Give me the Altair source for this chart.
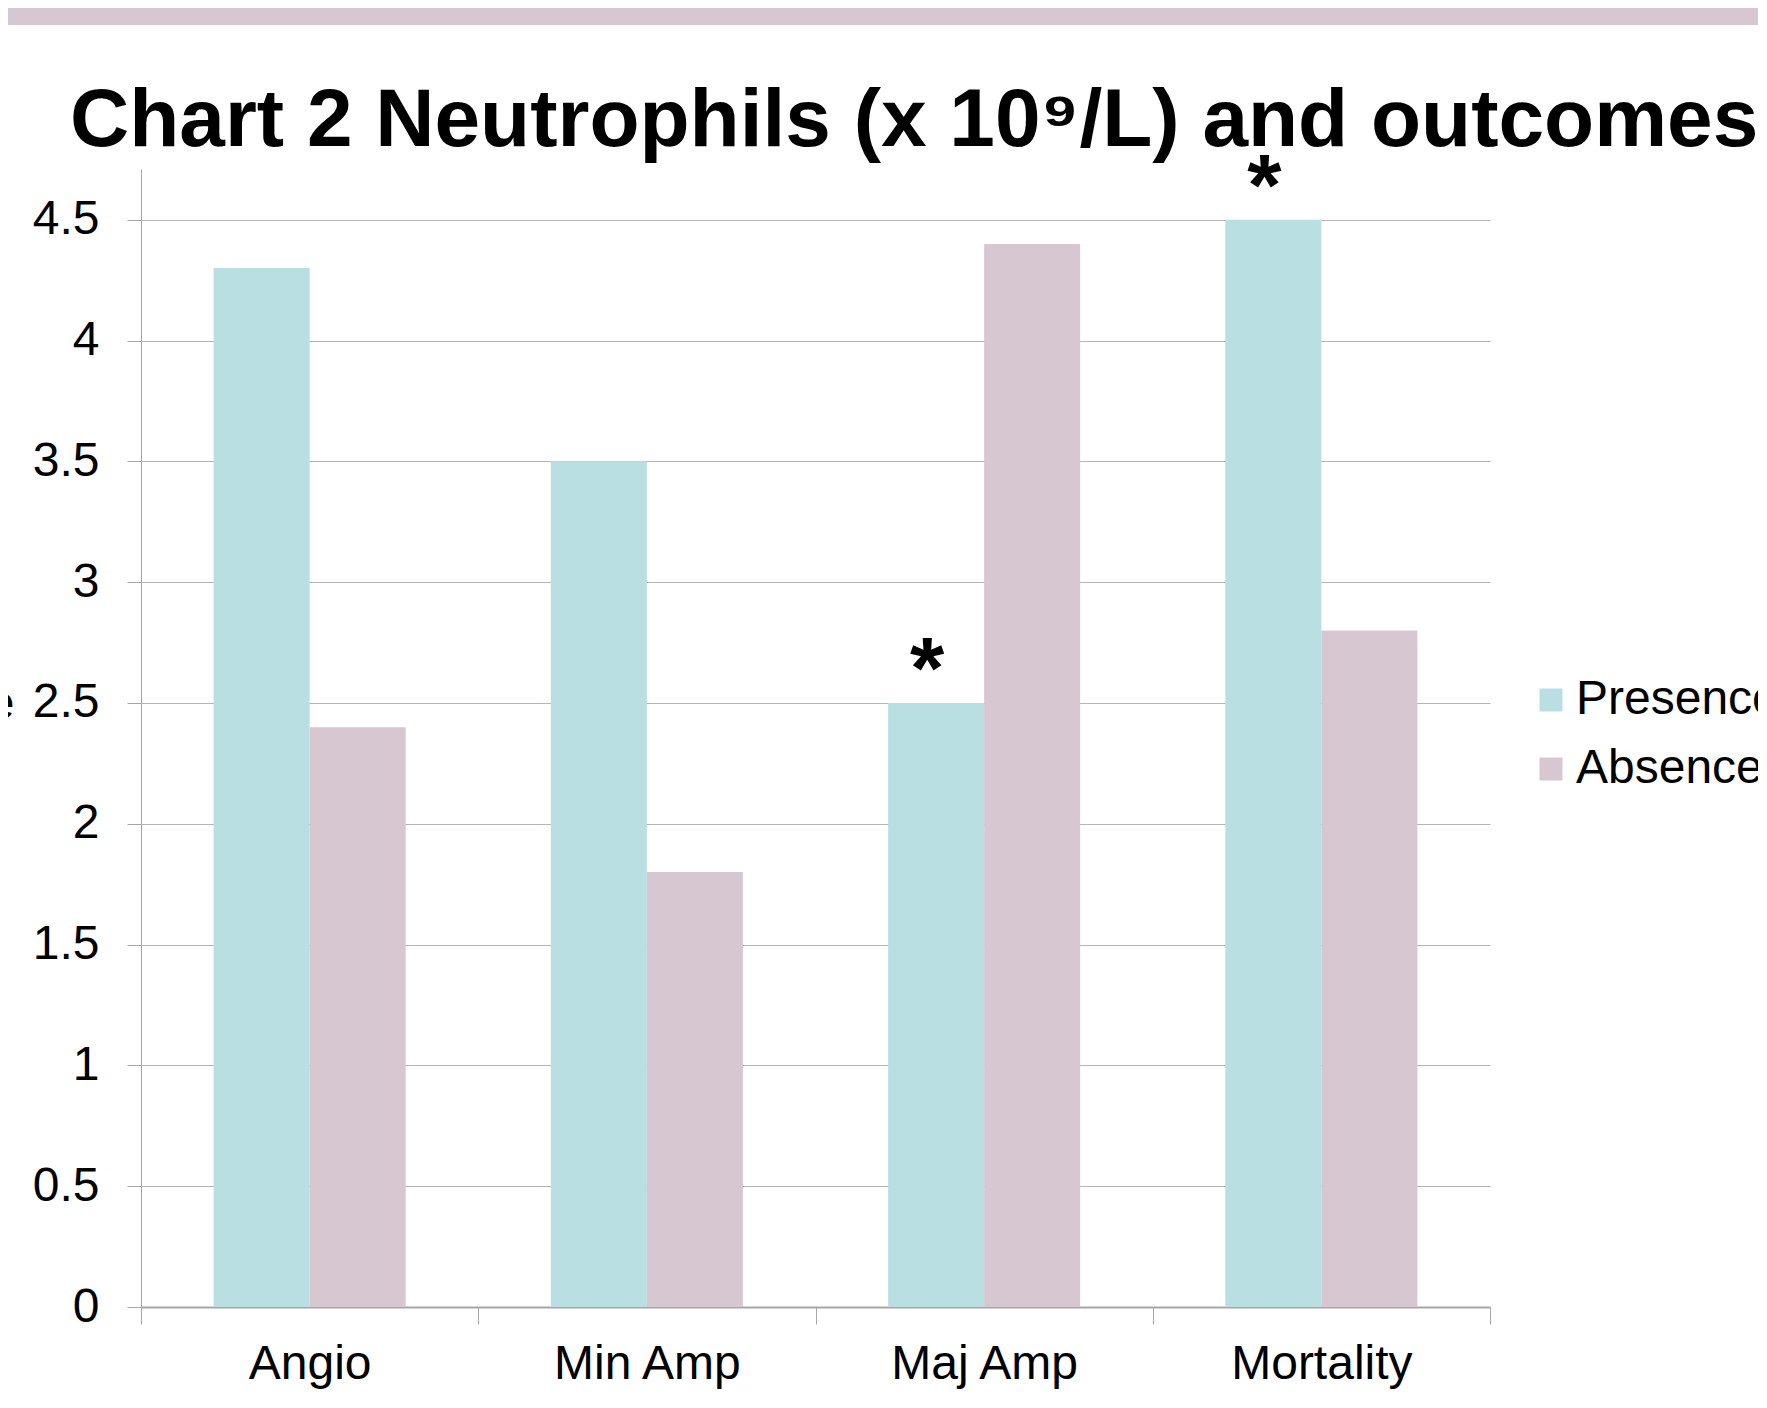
import altair as alt
import pandas as pd

categories = ["Angio", "Min Amp", "Maj Amp", "Mortality"]
groups = ["Presence", "Absence"]
presence = [4.3, 3.5, 2.5, 4.5]
absence = [2.4, 1.8, 4.4, 2.8]
presence_marks = ["", "", "*", "*"]
absence_marks = ["", "", "", ""]
colors = ["#BADFE2", "#D6C7D0"]
y_ticks = [0, 0.5, 1, 1.5, 2, 2.5, 3, 3.5, 4, 4.5]

rows = []
for i, c in enumerate(categories):
    rows.append({"Outcome": c, "Group": "Presence", "Value": presence[i], "Star": presence_marks[i]})
    rows.append({"Outcome": c, "Group": "Absence", "Value": absence[i], "Star": absence_marks[i]})
df = pd.DataFrame(rows)
stars = df[df["Star"] != ""]

FONT = "Liberation Sans"

x_scale = alt.Scale(paddingInner=0, paddingOuter=0)
xoff_scale = alt.Scale(paddingInner=0, paddingOuter=0.756)

x_enc = alt.X(
    "Outcome:N",
    sort=categories,
    scale=x_scale,
    axis=alt.Axis(
        title=None, labelAngle=0, tickBand="extent", tickSize=17,
        tickColor="#a6a6a6", domainColor="#a6a6a6", domainWidth=2,
        labelFontSize=48, labelFont=FONT, labelColor="#000000",
        labelPadding=16, grid=False, labelLimit=0,
    ),
)
xoff_enc = alt.XOffset("Group:N", sort=groups, scale=xoff_scale)
y_scale = alt.Scale(domain=[0, 4.71], nice=False)

bars = alt.Chart(df).mark_bar().encode(
    x=x_enc,
    xOffset=xoff_enc,
    y=alt.Y(
        "Value:Q",
        scale=y_scale,
        axis=alt.Axis(
            values=y_ticks, format=".1~f", tickSize=14, tickColor="#a6a6a6",
            domainColor="#a6a6a6", gridColor="#b5b5b5", grid=True,
            labelFontSize=48, labelFont=FONT, labelColor="#000000", labelPadding=28,
            title="Median value", titleAngle=0, titleAlign="right", titleBaseline="middle",
            titleX=-127, titleY=535, titleFontSize=48, titleFont=FONT,
            titleFontWeight="normal", titleColor="#000000",
        ),
    ),
    color=alt.Color(
        "Group:N",
        sort=groups,
        scale=alt.Scale(domain=groups, range=colors),
        legend=alt.Legend(
            title=None, orient="none", legendX=1386, legendY=507,
            symbolType="square", symbolSize=529, symbolStrokeWidth=0,
            labelFontSize=48, labelFont=FONT, labelColor="#000000",
            labelOffset=1, rowPadding=21, padding=0, labelLimit=0,
        ),
    ),
)

star_text = alt.Chart(stars).mark_text(
    font=FONT, fontSize=88, fontWeight="bold", baseline="alphabetic", dy=-5, dx=-9,
    color="#000000",
).encode(
    x=alt.X("Outcome:N", sort=categories, scale=x_scale),
    xOffset=alt.XOffset("Group:N", sort=groups, scale=xoff_scale),
    y=alt.Y("Value:Q", scale=y_scale),
    text="Star:N",
)

band = alt.Chart(pd.DataFrame({"a": [0]})).mark_rect(color="#D6C7D1").encode(
    x=alt.value(-200), x2=alt.value(2000), y=alt.value(-175), y2=alt.value(-144)
)

chart = alt.layer(band, bars, star_text).properties(
    width=1349,
    height=1138,
    title=alt.TitleParams(
        "Chart 2 Neutrophils (x 10⁹/L) and outcomes",
        fontSize=82, fontWeight="bold", font=FONT, color="#000000",
        anchor="start", dx=-71, offset=-234, baseline="alphabetic", frame="group",
    ),
    autosize=alt.AutoSizeParams(type="none"),
    padding={"left": 133, "top": 161, "right": 268, "bottom": 85},
).configure_view(stroke=None)

chart.save("out.html", embed_options={"renderer": "svg", "actions": False})
